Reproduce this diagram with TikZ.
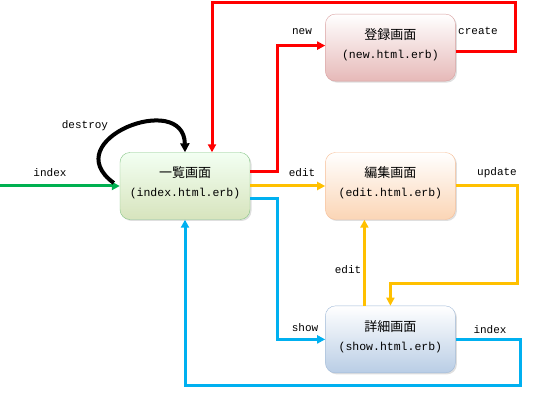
\documentclass[tikz,border=0pt]{standalone}
\usepackage{fontspec}
\setmainfont{Liberation Mono}
\newfontfamily\jpfont{Noto Sans CJK JP}
\usetikzlibrary{arrows.meta, positioning, shadows}

\definecolor{flowgreen}{HTML}{00B050}
\definecolor{flowred}{HTML}{FF0000}
\definecolor{floworange}{HTML}{FFC000}
\definecolor{flowblue}{HTML}{00B0F0}

\newcommand{\pagebox}[2]{{\jpfont\fontsize{13}{15}\selectfont #1}\\[7pt]{\fontsize{11.5}{13}\selectfont (#2)\rule[-8pt]{0pt}{8pt}}}

\begin{document}
\begin{tikzpicture}[
    x=1pt, y=-1pt,
    node distance=75pt,
    screen/.style={rectangle, draw, thin, rounded corners=10pt, minimum width=130pt, minimum height=67pt, align=center, inner sep=0pt, drop shadow={shadow xshift=1.5pt, shadow yshift=-1.5pt, opacity=0.25}},
    lbl/.style={font=\fontsize{11}{13}\selectfont, inner sep=0pt},
    arrow/.style={line width=3pt, -{Triangle[length=8pt, width=8pt]}}
]
\useasboundingbox (0,0) rectangle (541,406);

% Screens
\node (index) [screen, draw=green!35!gray!70, top color=green!5!white, bottom color={rgb,255:red,215;green,228;blue,189}] at (185,186) {\pagebox{一覧画面}{index.html.erb}};
\node (edit) [screen, draw={rgb,255:red,247;green,190;blue,150}, top color=white, bottom color={rgb,255:red,251;green,213;blue,181}, right=of index] {\pagebox{編集画面}{edit.html.erb}};
\node (new) [screen, draw={rgb,255:red,217;green,160;blue,160}, top color=white, bottom color={rgb,255:red,230;green,185;blue,184}, above=71pt of edit] {\pagebox{登録画面}{new.html.erb}};
\node (show) [screen, draw={rgb,255:red,160;green,185;blue,215}, top color=white, bottom color={rgb,255:red,185;green,205;blue,229}, below=86pt of edit] {\pagebox{詳細画面}{show.html.erb}};

% Corner points for routing
\coordinate (start) at (0,186);
\coordinate (ctop) at (515,3);
\coordinate (ibottom) at (520,385);

% Green entry
\draw [arrow, flowgreen] (start) -- (index.west);
\node (lindex) [lbl] at (50,173) {index};

% Destroy loop
\draw [line width=4pt, -{Triangle[length=9pt, width=9pt]}] ([xshift=-6pt, yshift=3pt]index.west) .. controls (55,140) and (184,90) .. (index.north);
\node (ldestroy) [lbl] at (85,126) {destroy};

% New / create
\draw [arrow, flowred] ([yshift=14pt]index.east) -- ++(27,0) |- ([yshift=2pt]new.west);
\node (lnew) [lbl] at (302,32) {new};
\draw [arrow, flowred] ([yshift=-3.5pt]new.east) -| (ctop) -| ([xshift=27pt]index.north);
\node (lcreate) [lbl] at (478,31) {create};

% Edit / update
\draw [arrow, floworange] (index.east) -- (edit.west);
\node (ledit) [lbl] at (302,173) {edit};
\draw [arrow, floworange] (edit.east) -- ++(62,0) |- ([yshift=22pt]show.north) -- (show.north);
\node (lupdate) [lbl] at (497,173) {update};
\draw [arrow, floworange] ([xshift=-26pt]show.north) -- ([xshift=-26pt]edit.south);
\node (ledit2) [lbl] at (348,270) {edit};

% Show / index
\draw [arrow, flowblue] ([yshift=-13pt]index.east) -- ++(27,0) |- (show.west);
\node (lshow) [lbl] at (305,328) {show};
\draw [arrow, flowblue] (show.east) -| (ibottom) -| (index.south);
\node (lindex2) [lbl] at (490,330) {index};

\end{tikzpicture}
\end{document}
